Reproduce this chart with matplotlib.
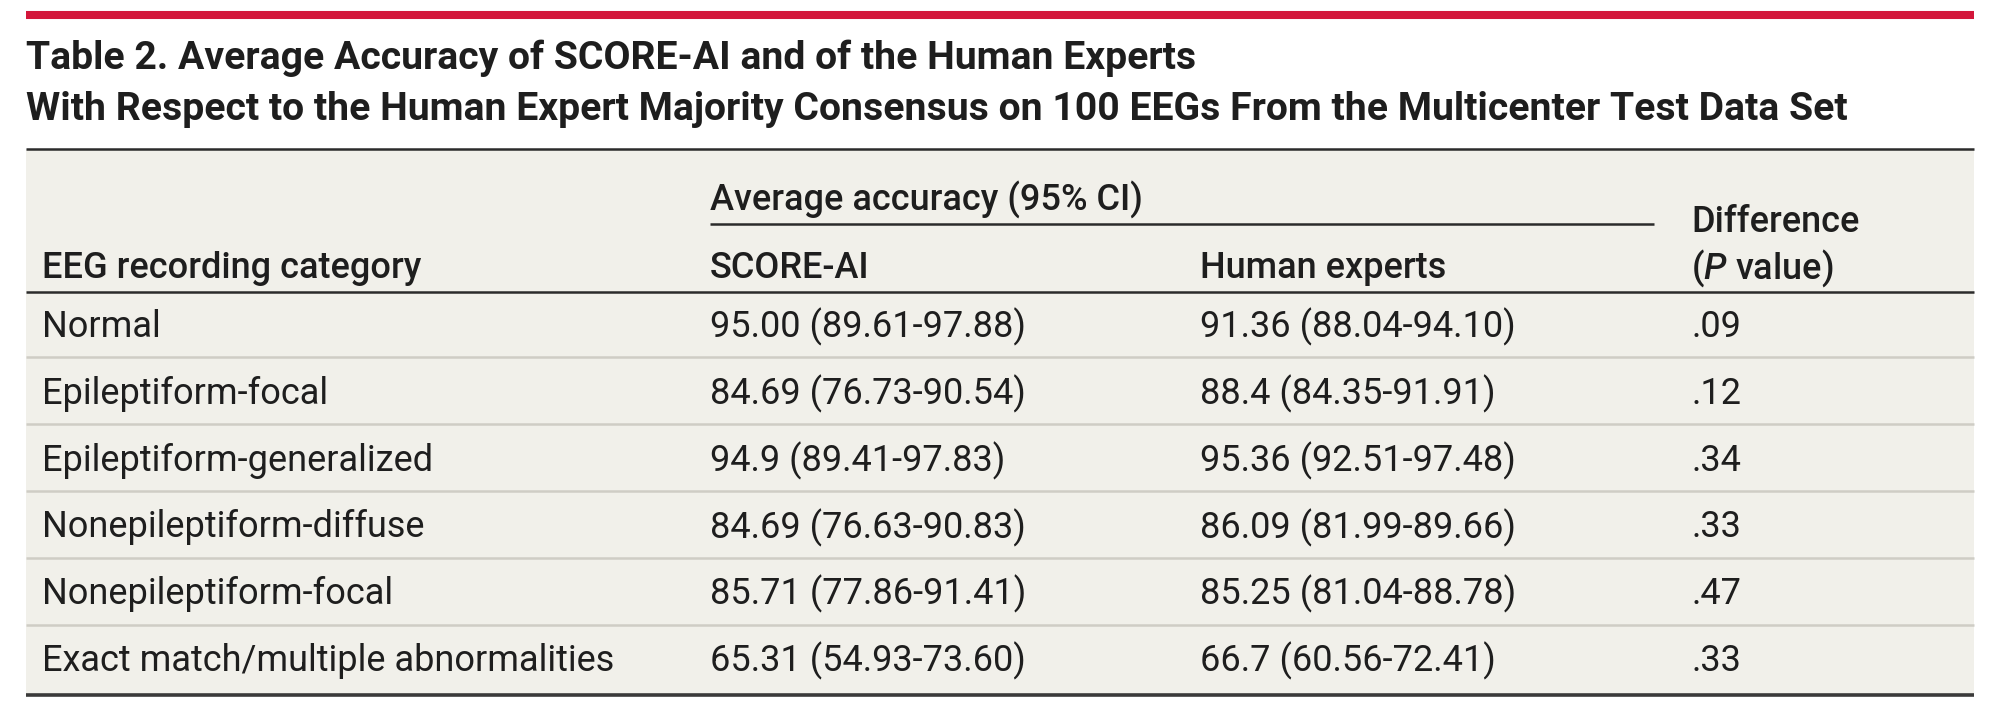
import matplotlib
matplotlib.use('Agg')
from matplotlib import pyplot as plt

plt.rcParams['font.family'] = ['Roboto', 'DejaVu Sans']
plt.rcParams['mathtext.fontset'] = 'custom'
plt.rcParams['mathtext.rm'] = 'Roboto'
plt.rcParams['mathtext.bf'] = 'Roboto:medium'
plt.rcParams['mathtext.it'] = 'Roboto:italic'
plt.rcParams['mathtext.bfit'] = 'Roboto:italic:medium'

title_lines = ["Table 2. Average Accuracy of SCORE-AI and of the Human Experts",
               "With Respect to the Human Expert Majority Consensus on 100 EEGs From the Multicenter Test Data Set"]
categories = ["Normal", "Epileptiform-focal", "Epileptiform-generalized",
              "Nonepileptiform-diffuse", "Nonepileptiform-focal",
              "Exact match/multiple abnormalities"]
score_ai = ["95.00 (89.61-97.88)", "84.69 (76.73-90.54)", "94.9 (89.41-97.83)",
            "84.69 (76.63-90.83)", "85.71 (77.86-91.41)", "65.31 (54.93-73.60)"]
human_experts = ["91.36 (88.04-94.10)", "88.4 (84.35-91.91)", "95.36 (92.51-97.48)",
                 "86.09 (81.99-89.66)", "85.25 (81.04-88.78)", "66.7 (60.56-72.41)"]
p_values = [".09", ".12", ".34", ".33", ".47", ".33"]

RED = '#d3163a'
BEIGE = '#f1f0ea'
DARK = '#2b2b2b'
SEP = '#cfcdc5'
TXT = '#1e1e1e'

W, H = 2000, 721
fig = plt.figure(figsize=(W / 100, H / 100), dpi=100)
ax = fig.add_axes([0, 0, 1, 1])
ax.set_xlim(0, W)
ax.set_ylim(H, 0)
ax.axis('off')

left, right = 26, 1974
col_x = [42, 710, 1200, 1691]
top, head_bot, bottom = 149, 292, 695
row0, row_h = 327, 66.8

# red rule + title
ax.hlines(15, left, right, color=RED, lw=5.8)
for i, line in enumerate(title_lines):
    ax.text(left, 58 + i * 51, line, fontsize=28.2, fontweight='bold', color=TXT, va='center', ha='left')

# table body
ax.add_patch(plt.Rectangle((left, top), right - left, bottom - top, color=BEIGE, lw=0))
ax.hlines(top, left, right, color=DARK, lw=1.8)
ax.hlines(head_bot, left, right, color=DARK, lw=1.8)
ax.hlines(bottom, left, right, color='#3a3a3a', lw=2.6)
ax.hlines(224, col_x[1], 1654, color=DARK, lw=1.8)

hfs = 26
hw = 'medium'
ax.text(col_x[1], 200, "Average accuracy (95% CI)", fontsize=hfs, fontweight=hw, color=TXT, va='center')
ax.text(col_x[0], 268, "EEG recording category", fontsize=hfs, fontweight=hw, color=TXT, va='center')
ax.text(col_x[1], 268, "SCORE-AI", fontsize=hfs, fontweight=hw, color=TXT, va='center')
ax.text(col_x[2], 268, "Human experts", fontsize=hfs, fontweight=hw, color=TXT, va='center')
ax.text(col_x[3], 223, "Difference", fontsize=hfs, fontweight=hw, color=TXT, va='center')
ax.text(col_x[3], 268, r"($\mathbfit{P}$ value)", fontsize=hfs, fontweight=hw, color=TXT, va='center')

for i, (c, s, h, p) in enumerate(zip(categories, score_ai, human_experts, p_values)):
    y = row0 + i * row_h
    for x, t in zip(col_x, [c, s, h, p]):
        ax.text(x, y, t, fontsize=hfs, color=TXT, va='center', ha='left')
    if i < len(categories) - 1:
        ax.hlines(row0 - 3 + (i + 0.5) * row_h, left, right, color=SEP, lw=1.8)

plt.savefig('out.png', dpi=100)
plt.close('all')
